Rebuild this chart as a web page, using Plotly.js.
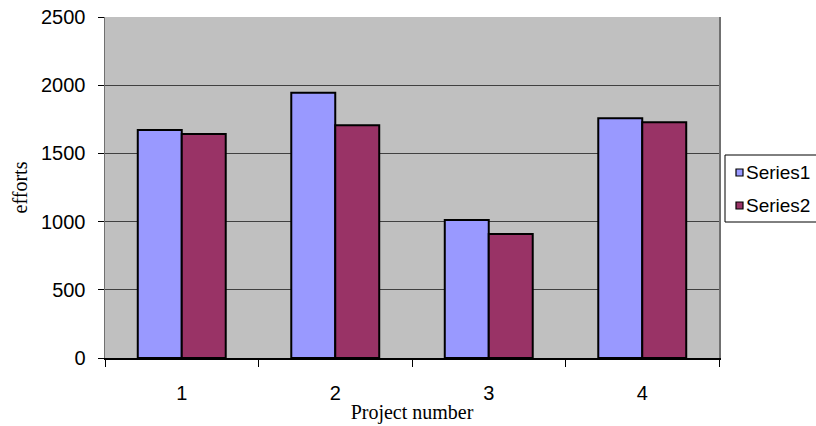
<!DOCTYPE html>
<html>
<head>
<meta charset="utf-8">
<script src="https://cdn.plot.ly/plotly-3.0.1.min.js"></script>
<style>
  html, body { margin: 0; padding: 0; background: #ffffff; }
  #chart { width: 816px; height: 426px; }
</style>
</head>
<body>
<div id="chart"></div>
<script>
// ---- Data ----
const categories = ['1', '2', '3', '4'];
const series1 = [1672, 1945, 1012, 1757];
const series2 = [1642, 1706, 909, 1728];
const seriesNames = ['Series1', 'Series2'];
const seriesColors = ['#9999FF', '#993366'];
const yTickValues = [0, 500, 1000, 1500, 2000, 2500];
const xTitle = 'Project number';
const yTitle = 'efforts';

const allSeries = [series1, series2];

const traces = allSeries.map((vals, i) => ({
  type: 'bar',
  x: categories,
  y: vals,
  name: seriesNames[i],
  marker: { color: seriesColors[i], line: { color: '#000000', width: 2 } },
  showlegend: false,
  hoverinfo: 'x+y+name'
}));

// plot area in pixels: x 105..719, y 17..358
const L = 105, R = 719, T = 17, B = 358;
const px = v => (v - L) / (R - L);
const py = v => (B - v) / (B - T);

// Custom legend (box, swatches, labels)
const shapes = [
  { type: 'rect', xref: 'paper', yref: 'paper', x0: px(725), x1: px(840), y0: py(222), y1: py(155),
    line: { color: '#000000', width: 1 }, fillcolor: '#ffffff', layer: 'above' }
];
const annotations = [];
const rowsY = [172.5, 205.5];
seriesNames.forEach((nm, i) => {
  const cy = rowsY[i];
  shapes.push({ type: 'rect', xref: 'paper', yref: 'paper',
    x0: px(736), x1: px(743), y0: py(cy + 3.5), y1: py(cy - 3.5),
    line: { color: '#000000', width: 1.2 }, fillcolor: seriesColors[i], layer: 'above' });
  annotations.push({ xref: 'paper', yref: 'paper', x: px(744), y: py(cy), xanchor: 'left', yanchor: 'middle',
    text: nm, showarrow: false, font: { family: 'Liberation Sans, Arial, sans-serif', size: 19, color: '#000000' } });
});

const layout = {
  width: 816,
  height: 426,
  margin: { l: L, r: 816 - R, t: T, b: 426 - B, pad: 0 },
  paper_bgcolor: '#ffffff',
  plot_bgcolor: '#C0C0C0',
  barmode: 'group',
  bargap: 0.427,
  bargroupgap: 0,
  showlegend: false,
  font: { family: 'Liberation Sans, Arial, sans-serif', color: '#000000', size: 20 },
  xaxis: {
    type: 'category',
    tickson: 'boundaries',
    ticks: 'outside',
    ticklen: 7,
    tickcolor: '#000000',
    showline: true,
    linecolor: '#000000',
    linewidth: 1.5,
    showgrid: false,
    ticklabelstandoff: 16,
    tickfont: { family: 'Liberation Sans, Arial, sans-serif', size: 20 },
    title: { text: xTitle, standoff: 2, font: { family: 'Liberation Serif, Times New Roman, serif', size: 20 } },
    automargin: false
  },
  yaxis: {
    range: [0, 2500],
    tickvals: yTickValues,
    ticks: 'outside',
    ticklen: 6,
    tickcolor: '#000000',
    showline: true,
    linecolor: '#707070',
    linewidth: 1.5,
    mirror: true,
    showgrid: true,
    gridcolor: '#404040',
    gridwidth: 1,
    zeroline: false,
    ticklabelstandoff: 8,
    tickfont: { family: 'Liberation Sans, Arial, sans-serif', size: 20 },
    title: { text: yTitle, standoff: 8, font: { family: 'Liberation Serif, Times New Roman, serif', size: 20 } },
    automargin: false
  },
  shapes: shapes,
  annotations: annotations
};

Plotly.newPlot('chart', traces, layout, { displayModeBar: false, staticPlot: true });
</script>
</body>
</html>
